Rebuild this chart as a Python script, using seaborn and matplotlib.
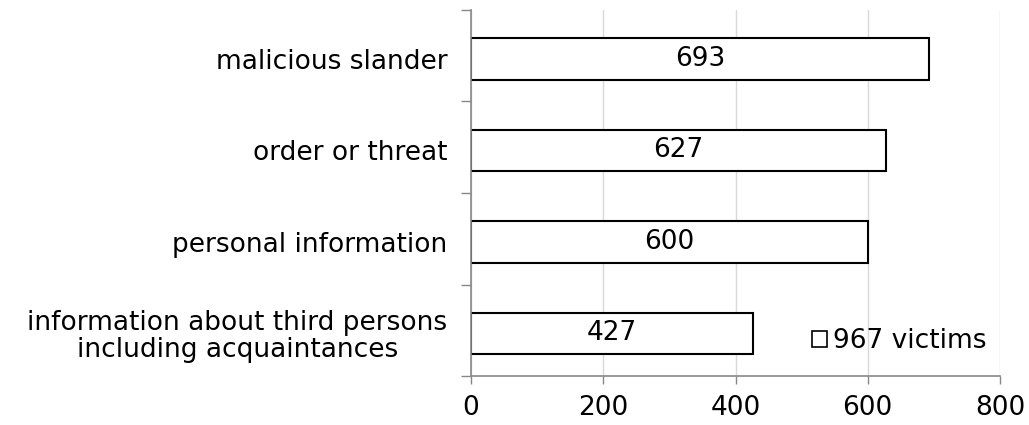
import matplotlib
matplotlib.use("Agg")
import matplotlib.pyplot as plt
import seaborn as sns
import pandas as pd
from matplotlib.ticker import FixedLocator

# data
categories = ["malicious slander", "order or threat", "personal information",
              "information about third persons\nincluding acquaintances"]
counts = [693, 627, 600, 427]
series_name = "967 victims"

df = pd.DataFrame({"category": categories, "count": counts, "group": series_name})

sns.set_style("white")
plt.rcParams["font.family"] = ["DejaVu Sans"]
plt.rcParams["text.color"] = "black"

fig = plt.figure(figsize=(10.29, 4.25), dpi=100)
ax = fig.add_axes([471 / 1029, 1 - 376 / 425, 529 / 1029, 366 / 425])

sns.barplot(data=df, x="count", y="category", hue="group", palette=["white"],
            edgecolor="black", linewidth=1.5, width=0.45, orient="h", ax=ax)

# value labels in the middle of each bar
for c in ax.containers:
    ax.bar_label(c, labels=[str(v) for v in counts], label_type="center",
                 fontsize=19, color="black")

# bars sit slightly below the middle of each band, like the original
off = 0.035
n = len(categories)
ax.set_xlim(0, 800)
ax.set_ylim(n - 0.5 - off, -0.5 - off)
ax.set_xticks([0, 200, 400, 600, 800])
ax.tick_params(axis="x", bottom=True, labelsize=19, length=6, width=1,
               color="#888888", labelcolor="black", pad=8)
ax.tick_params(axis="y", which="major", left=True, length=0, labelsize=19,
               labelcolor="black", pad=17)
ax.yaxis.set_minor_locator(FixedLocator([i - 0.5 - off for i in range(n + 1)]))
ax.tick_params(axis="y", which="minor", left=True, length=7, width=1, color="#888888")
for lbl in ax.get_yticklabels():
    lbl.set_horizontalalignment("right")
    lbl.set_multialignment("center")
    lbl.set_linespacing(1.05)

ax.grid(axis="x", color="#d9d9d9", linewidth=1)
ax.set_axisbelow(True)
for s in ["top", "right"]:
    ax.spines[s].set_visible(False)
for s in ["left", "bottom"]:
    ax.spines[s].set_color("#888888")
    ax.spines[s].set_linewidth(1.2)

ax.set_xlabel("")
ax.set_ylabel("")

leg = ax.legend(loc="lower right", frameon=False, fontsize=19, handlelength=0.55,
                handleheight=0.55, handletextpad=0.25, borderaxespad=0.0,
                bbox_to_anchor=(0.995, 0.03))
for h in leg.legend_handles:
    h.set_edgecolor("black")
    h.set_linewidth(1.2)

fig.savefig("out.png", dpi=100)
